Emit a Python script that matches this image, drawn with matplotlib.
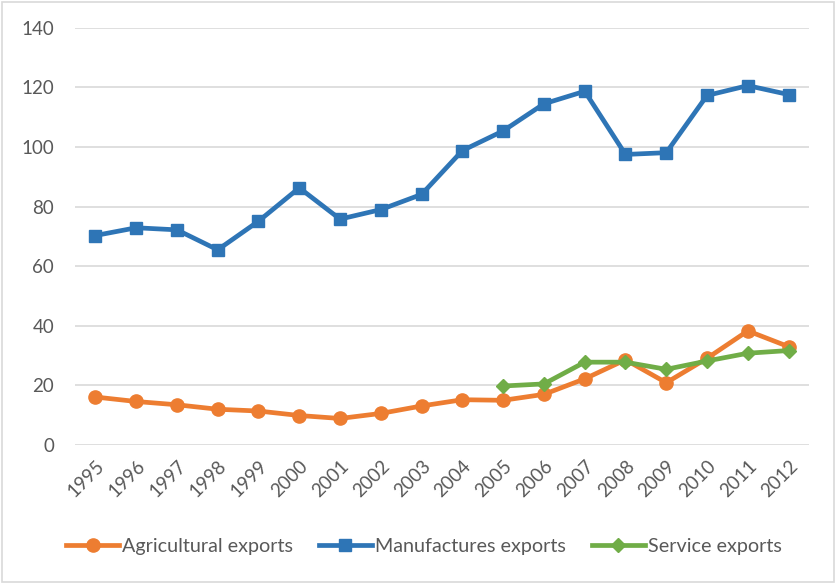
import matplotlib
matplotlib.use("Agg")
import matplotlib.pyplot as plt
from matplotlib.patches import Rectangle

years = [str(y) for y in range(1995, 2013)]
agricultural = [16.1, 14.6, 13.5, 12.0, 11.4, 9.9, 8.9, 10.6, 13.1, 15.2, 15.0, 17.0, 22.2, 28.6, 20.9, 29.1, 38.3, 33.0]
manufactures = [70.3, 72.9, 72.2, 65.5, 75.1, 86.3, 75.8, 79.0, 84.1, 98.8, 105.4, 114.5, 118.7, 97.5, 98.1, 117.3, 120.6, 117.6]
service_years = [str(y) for y in range(2005, 2013)]
service = [19.8, 20.5, 27.8, 27.8, 25.4, 28.2, 30.8, 31.7]
yticks = [0, 20, 40, 60, 80, 100, 120, 140]

plt.rcParams['font.family'] = ['Lato', 'DejaVu Sans']
txt = '#595959'

fig = plt.figure(figsize=(8.36, 5.83), dpi=100)
ax = fig.add_axes([0.0897, 0.2367, 0.878, 0.7156])

x = list(range(len(years)))
sx = [years.index(y) for y in service_years]

ax.plot(x, agricultural, color='#ED7D31', lw=3.4, marker='o', ms=9.5, label='Agricultural exports', zorder=3)
ax.plot(x, manufactures, color='#2E75B6', lw=3.4, marker='s', ms=9, label='Manufactures exports', zorder=3)
ax.plot(sx, service, color='#70AD47', lw=3.4, marker='D', ms=7.5, label='Service exports', zorder=4)

ax.set_xlim(-0.5, len(years) - 0.5)
ax.set_ylim(0, 140)
ax.set_yticks(yticks)
ax.set_xticks(x)
ax.set_xticklabels(years, rotation=45, ha='right', rotation_mode='anchor')
ax.grid(axis='y', color='#D9D9D9', lw=1.2)
ax.set_axisbelow(True)
for s in ax.spines.values():
    s.set_visible(False)
ax.tick_params(length=0, labelsize=13.5, colors=txt)
ax.tick_params(axis='y', pad=15)
ax.tick_params(axis='x', pad=9)

leg = fig.legend(loc='center', bbox_to_anchor=(0.507, 0.063), ncol=3, frameon=False,
                 fontsize=14.2, handlelength=2.7, columnspacing=1.3, handletextpad=0.15,
                 labelcolor=txt)

fig.patches.append(Rectangle((0.002, 0.002), 0.996, 0.995, transform=fig.transFigure,
                             fill=False, edgecolor='#D9D9D9', lw=1.2))

fig.savefig('out.png', dpi=100)
